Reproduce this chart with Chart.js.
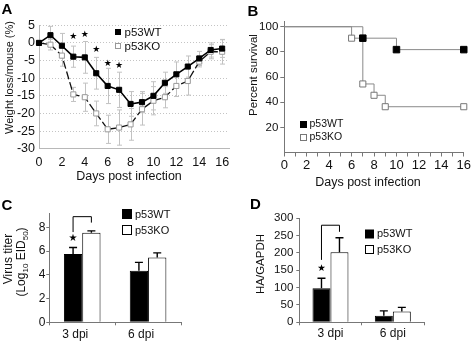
<!DOCTYPE html>
<html><head><meta charset="utf-8">
<script src="https://cdn.jsdelivr.net/npm/chart.js@4/dist/chart.umd.min.js"></script>
<style>
html,body{margin:0;padding:0;background:#fff;}
#wrap{position:relative;width:472px;height:343px;overflow:hidden;background:#fff;}
canvas{position:absolute;left:0;top:0;}
</style></head><body>
<div id="wrap">
<canvas id="cA" width="472" height="343"></canvas>
<canvas id="cB" width="472" height="343"></canvas>
<canvas id="cC" width="472" height="343"></canvas>
<canvas id="cD" width="472" height="343"></canvas>
</div>
<script>
// ---------- DATA ----------
// Panel A: weight loss
const daysA = [0,1,2,3,4,5,6,7,8,9,10,11,12,13,14,15,16];
const weightWT = [0, 2.2, -0.8, -3.9, -4.1, -8.6, -12.2, -13.3, -17.3, -16.8, -15.0, -11.3, -8.9, -6.7, -4.4, -2.0, -1.6];
const weightKO = [0, -0.5, -3.6, -14.6, -15.4, -20.0, -24.5, -24.0, -23.1, -18.8, -16.4, -15.4, -12.2, -10.8, -5.3, -2.5, -2.5];
const errWT = [0, 2.5, 3.5, 3, 4.5, 4.5, 5, 5, 3.5, 3, 4, 3, 3.5, 3, 2, 2, 2.5];
const errKO = [0, 1.5, 3, 2, 4, 3.5, 4, 5, 4.5, 4.5, 4, 3, 3, 4, 1.5, 2, 3.5];
const starDaysA = [3, 4, 5, 6, 7];
const starYA = [1.8, 2.4, -2.0, -5.8, -6.5];
const xTicksA = [0,2,4,6,8,10,12,14,16];
const yTicksA = [-30,-25,-20,-15,-10,-5,0,5];
// Panel B: survival
const survDaysWT = [0, 7, 10, 16];
const survWT = [100, 90.9, 81.8, 81.8];
const survDaysKO = [0, 6, 7, 8, 9, 16];
const survKO = [100, 90.9, 54.5, 45.5, 36.4, 36.4];
const yTicksB = [20,40,60,80,100];
// Panel C: virus titer
const dpiLabels = ['3 dpi', '6 dpi'];
const titerWT = [5.75, 4.35];
const titerWTerr = [0.55, 0.7];
const titerKO = [7.55, 5.45];
const titerKOerr = [0.15, 0.4];
const yTicksC = [0,2,4,6,8];
// Panel D: HA/GAPDH
const haWT = [98, 19];
const haWTerr = [29, 14];
const haKO = [202, 31];
const haKOerr = [42, 12];
const yTicksD = [0,50,100,150,200,250,300];

// ---------- SETUP ----------
const FONT = '"Liberation Sans", Arial, sans-serif';
Chart.defaults.font.family = FONT;
Chart.defaults.color = '#111';
Chart.defaults.animation = false;
Chart.defaults.responsive = false;
Chart.defaults.devicePixelRatio = 1;
Chart.defaults.events = [];
Chart.defaults.plugins.legend.display = false;
Chart.defaults.plugins.tooltip.enabled = false;

const NOSKIP = {autoSkip:false, autoSkipPadding:0};
function pad(a, yW, xH){ return {left:a.l - yW, top:a.t, right:472 - a.r, bottom:343 - a.b - xH}; }
function setTicks(arr){ return s => { s.ticks = arr.map(v => ({value:v})); }; }
function txt(ctx, s, x, y, size, o){
  o = o || {};
  ctx.save();
  ctx.font = (o.bold ? 'bold ' : '') + size + 'px ' + (o.family || FONT);
  ctx.fillStyle = o.color || '#111';
  ctx.textAlign = o.align || 'left';
  ctx.textBaseline = o.base || 'middle';
  if (o.rot) { ctx.translate(x, y); ctx.rotate(o.rot); ctx.fillText(s, 0, 0); }
  else ctx.fillText(s, x, y);
  ctx.restore();
}
function swatch(ctx, x, y, s, fill, stroke){
  ctx.save();
  if (fill) { ctx.fillStyle = fill; ctx.fillRect(x, y, s, s); }
  else { ctx.strokeStyle = stroke; ctx.lineWidth = 1; ctx.strokeRect(x + 0.5, y + 0.5, s - 1, s - 1); }
  ctx.restore();
}
function star(ctx, x, y, size){ txt(ctx, '\u2605', x, y, size, {align:'center', family:'"DejaVu Sans", sans-serif', color:'#000'}); }
function barErr(chart, di, errs){
  const meta = chart.getDatasetMeta(di), ys = chart.scales.y, ctx = chart.ctx;
  const vals = chart.data.datasets[di].data;
  ctx.save(); ctx.strokeStyle = '#000'; ctx.lineWidth = 1.4;
  meta.data.forEach((bar, i) => {
    const x = bar.x, y0 = ys.getPixelForValue(vals[i]), y1 = ys.getPixelForValue(vals[i] + errs[i]);
    ctx.beginPath(); ctx.moveTo(x, y0); ctx.lineTo(x, y1);
    ctx.moveTo(x - 4, y1); ctx.lineTo(x + 4, y1); ctx.stroke();
  });
  ctx.restore();
}
function bracket(chart, yTop, yL, yR, yStar, starSize){
  const ys = chart.scales.y, ctx = chart.ctx;
  const xl = chart.getDatasetMeta(0).data[0].x, xr = chart.getDatasetMeta(1).data[0].x;
  ctx.save(); ctx.strokeStyle = '#000'; ctx.lineWidth = 1;
  ctx.beginPath();
  ctx.moveTo(xl, ys.getPixelForValue(yL)); ctx.lineTo(xl, ys.getPixelForValue(yTop));
  ctx.lineTo(xr, ys.getPixelForValue(yTop)); ctx.lineTo(xr, ys.getPixelForValue(yR));
  ctx.stroke(); ctx.restore();
  star(ctx, xl, ys.getPixelForValue(yStar), starSize);
}

// ---------- PANEL A ----------
const areaA = {l:39, t:25.3, r:229, b:148.7};
new Chart(document.getElementById('cA'), {
  type: 'line',
  data: { datasets: [
    { label:'p53WT', data: daysA.map((d,i)=>({x:d, y:weightWT[i]})), borderColor:'#000', borderWidth:1.6,
      pointStyle:'rect', pointRadius:3.6, pointBackgroundColor:'#000', pointBorderColor:'#000', pointBorderWidth:1, clip:false },
    { label:'p53KO', data: daysA.map((d,i)=>({x:d, y:weightKO[i]})), borderColor:'#111', borderWidth:1.3, borderDash:[8,3],
      pointStyle:'rect', pointRadius:3.6, pointBackgroundColor:'#fff', pointBorderColor:'#999', pointBorderWidth:1, clip:false }
  ]},
  options: {
    layout: { padding: pad(areaA, 39, 20) },
    scales: {
      x: { type:'linear', min:0, max:16.6, afterBuildTicks:setTicks(xTicksA), afterFit:s=>{s.height=20;},
           grid:{display:false, drawTicks:false}, border:{color:'#b8b8b8'},
           ticks:{...NOSKIP, font:{size:12.5}, padding:6, maxRotation:0} },
      y: { type:'linear', min:-30, max:5, afterBuildTicks:setTicks(yTicksA), afterFit:s=>{s.width=39;},
           grid:{color:'#c4c4c4', drawTicks:false}, border:{color:'#b8b8b8', dash:[1,2]},
           ticks:{...NOSKIP, font:{size:12.5, lineHeight:1}, padding:4} }
    }
  },
  plugins: [{
    id:'aExtras',
    beforeDatasetsDraw(chart){
      const ctx = chart.ctx, xs = chart.scales.x, ys = chart.scales.y;
      ctx.save(); ctx.strokeStyle = '#c2c2c2'; ctx.lineWidth = 1;
      [[weightWT, errWT], [weightKO, errKO]].forEach(([v, e]) => {
        daysA.forEach((d, i) => {
          if (!e[i]) return;
          const x = Math.round(xs.getPixelForValue(d)) + 0.5;
          const y1 = ys.getPixelForValue(v[i] + e[i]), y2 = ys.getPixelForValue(v[i] - e[i]);
          ctx.beginPath(); ctx.moveTo(x, y1); ctx.lineTo(x, y2);
          ctx.moveTo(x - 2.5, y1); ctx.lineTo(x + 2.5, y1);
          ctx.moveTo(x - 2.5, y2); ctx.lineTo(x + 2.5, y2); ctx.stroke();
        });
      });
      ctx.restore();
    },
    afterDraw(chart){
      const ctx = chart.ctx, xs = chart.scales.x, ys = chart.scales.y;
      starDaysA.forEach((d, i) => star(ctx, xs.getPixelForValue(d), ys.getPixelForValue(starYA[i]), 9));
      swatch(ctx, 115, 29, 6, '#000');
      txt(ctx, 'p53WT', 124.5, 32.5, 11.5);
      swatch(ctx, 115, 43, 6, null, '#999');
      txt(ctx, 'p53KO', 124.5, 46.5, 11.5);
      txt(ctx, 'Weight loss/mouse (%)', 9.5, 77.5, 11, {align:'center', rot:-Math.PI/2});
      txt(ctx, 'Days post infection', 129, 177, 12.5, {align:'center'});
      txt(ctx, 'A', 1.5, 13.5, 15, {bold:true, base:'alphabetic', color:'#000'});
    }
  }]
});

// ---------- PANEL B ----------
const areaB = {l:284.3, t:21.7, r:465.3, b:152.5};
new Chart(document.getElementById('cB'), {
  type: 'line',
  data: { datasets: [
    { label:'p53WT', data: survDaysWT.map((d,i)=>({x:d, y:survWT[i]})), stepped:true, borderColor:'#8a8a8a', borderWidth:1,
      pointStyle:'rect', pointRadius: survDaysWT.map((d,i)=> i === 0 ? 0 : 4.6), pointBackgroundColor:'#000', pointBorderColor:'#000', pointBorderWidth:1, clip:false },
    { label:'p53KO', data: survDaysKO.map((d,i)=>({x:d, y:survKO[i]})), stepped:true, borderColor:'#8a8a8a', borderWidth:1,
      pointStyle:'rect', pointRadius: survDaysKO.map((d,i)=> i === 0 ? 0 : 4.3), pointBackgroundColor:'#fff', pointBorderColor:'#777', pointBorderWidth:1, clip:false }
  ]},
  options: {
    layout: { padding: pad(areaB, 30, 22) },
    scales: {
      x: { type:'linear', min:0, max:16, afterFit:s=>{s.height=22;},
           grid:{drawOnChartArea:false, drawTicks:true, tickLength:4, color:'#777'}, border:{color:'#777'},
           ticks:{...NOSKIP, stepSize:1, font:{size:13}, padding:1, maxRotation:0,
                  callback:v => (v % 2 === 0 ? String(v) : '')} },
      y: { min:0, max:104, afterBuildTicks:setTicks(yTicksB), afterFit:s=>{s.width=30;},
           grid:{drawOnChartArea:false, drawTicks:true, tickLength:4, color:'#777'}, border:{color:'#777'},
           ticks:{...NOSKIP, font:{size:11.5}, padding:2} }
    }
  },
  plugins: [{
    id:'bExtras',
    afterDraw(chart){
      const ctx = chart.ctx;
      swatch(ctx, 300, 121, 7, '#000');
      txt(ctx, 'p53WT', 309.5, 124.5, 10.5);
      swatch(ctx, 300, 134, 7, null, '#777');
      txt(ctx, 'p53KO', 309.5, 137.5, 10.5);
      txt(ctx, 'Percent survival', 253.5, 75, 11.5, {align:'center', rot:-Math.PI/2});
      txt(ctx, 'Days post infection', 368, 183, 12.5, {align:'center'});
      txt(ctx, 'B', 247.5, 16, 15, {bold:true, base:'alphabetic', color:'#000'});
    }
  }]
});

// ---------- PANEL C ----------
const areaC = {l:49.3, t:213.1, r:181, b:322.3};
new Chart(document.getElementById('cC'), {
  type: 'bar',
  data: { labels: dpiLabels, datasets: [
    { label:'p53WT', data: titerWT, backgroundColor:'#000', borderColor:'#000', borderWidth:1, categoryPercentage:0.556, barPercentage:1 },
    { label:'p53KO', data: titerKO, backgroundColor:'#fff', borderColor:'#000', borderWidth:1, categoryPercentage:0.556, barPercentage:1 }
  ]},
  options: {
    layout: { padding: pad(areaC, 20, 20) },
    scales: {
      x: { afterFit:s=>{s.height=20;}, grid:{drawOnChartArea:false, drawTicks:true, tickLength:3, color:'#777'}, border:{color:'#777'},
           ticks:{autoSkip:false, font:{size:12}, padding:2.5, labelOffset:-7} },
      y: { min:0, max:9.2, afterBuildTicks:setTicks(yTicksC), afterFit:s=>{s.width=20;},
           grid:{drawOnChartArea:false, drawTicks:true, tickLength:3, color:'#777'}, border:{color:'#777'},
           ticks:{...NOSKIP, font:{size:12}, padding:1} }
    }
  },
  plugins: [{
    id:'cExtras',
    afterDatasetsDraw(chart){
      barErr(chart, 0, titerWTerr);
      barErr(chart, 1, titerKOerr);
      bracket(chart, 8.9, 7.6, 8.4, 7.07, 10);
    },
    afterDraw(chart){
      const ctx = chart.ctx;
      swatch(ctx, 122, 209, 10, '#000');
      txt(ctx, 'p53WT', 135, 214.5, 11);
      swatch(ctx, 122, 225, 10, null, '#000');
      txt(ctx, 'p53KO', 135, 230.5, 11);
      txt(ctx, 'Virus titer', 8.5, 259, 12, {align:'center', rot:-Math.PI/2});
      const parts = [{t:'(Log'}, {t:'10', sub:true}, {t:' EID'}, {t:'50', sub:true}, {t:')'}];
      const size = 12;
      ctx.save(); ctx.translate(21, 262); ctx.rotate(-Math.PI/2);
      ctx.fillStyle = '#111'; ctx.textBaseline = 'alphabetic';
      let total = 0;
      parts.forEach(p => { ctx.font = (p.sub ? 8 : size) + 'px ' + FONT; p.w = ctx.measureText(p.t).width; total += p.w; });
      let cx = -total / 2;
      parts.forEach(p => { ctx.font = (p.sub ? 8 : size) + 'px ' + FONT; ctx.fillText(p.t, cx, p.sub ? 6.5 : 4.3); cx += p.w; });
      ctx.restore();
      txt(ctx, 'C', 1.5, 210, 15, {bold:true, base:'alphabetic', color:'#000'});
    }
  }]
});

// ---------- PANEL D ----------
const areaD = {l:299.3, t:218.3, r:424, b:322.3};
new Chart(document.getElementById('cD'), {
  type: 'bar',
  data: { labels: dpiLabels, datasets: [
    { label:'p53WT', data: haWT, backgroundColor:'#000', borderColor:'#000', borderWidth:1, categoryPercentage:0.577, barPercentage:1 },
    { label:'p53KO', data: haKO, backgroundColor:'#fff', borderColor:'#000', borderWidth:1, categoryPercentage:0.577, barPercentage:1 }
  ]},
  options: {
    layout: { padding: pad(areaD, 30, 20) },
    scales: {
      x: { afterFit:s=>{s.height=20;}, grid:{drawOnChartArea:false, drawTicks:true, tickLength:3, color:'#777'}, border:{color:'#777'},
           ticks:{autoSkip:false, font:{size:12}, padding:1.5} },
      y: { min:0, max:300, afterBuildTicks:setTicks(yTicksD), afterFit:s=>{s.width=30;},
           grid:{drawOnChartArea:false, drawTicks:true, tickLength:3, color:'#777'}, border:{color:'#777'},
           ticks:{...NOSKIP, font:{size:11.5}, padding:3} }
    }
  },
  plugins: [{
    id:'dExtras',
    afterDatasetsDraw(chart){
      barErr(chart, 0, haWTerr);
      barErr(chart, 1, haKOerr);
      bracket(chart, 280, 180, 261, 154, 9.5);
    },
    afterDraw(chart){
      const ctx = chart.ctx;
      swatch(ctx, 365, 229.5, 9, '#000');
      txt(ctx, 'p53WT', 377, 234, 11);
      swatch(ctx, 365, 245, 9, null, '#000');
      txt(ctx, 'p53KO', 377, 249.5, 11);
      txt(ctx, 'HA/GAPDH', 261, 264, 11.5, {align:'center', rot:-Math.PI/2});
      txt(ctx, 'D', 250, 208.5, 15, {bold:true, base:'alphabetic', color:'#000'});
    }
  }]
});
</script>
</body></html>
